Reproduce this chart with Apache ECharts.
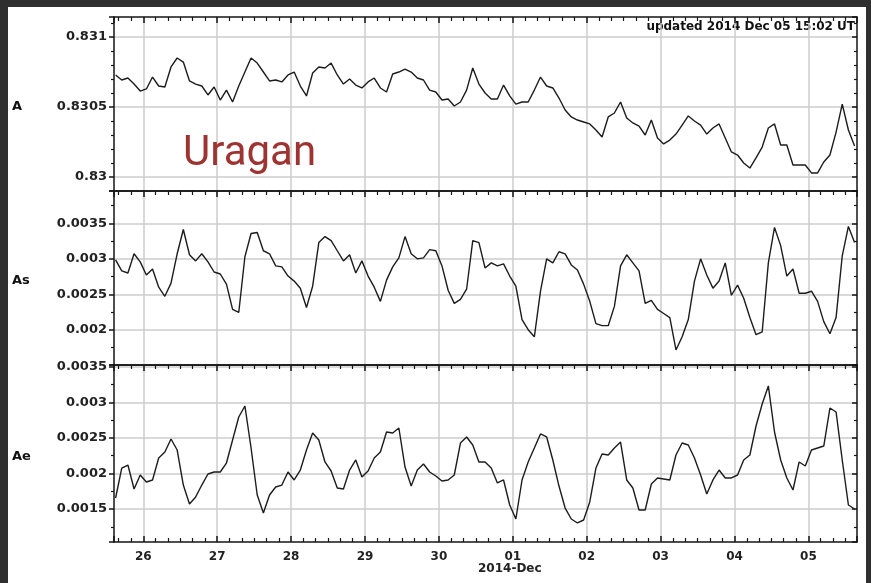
<!DOCTYPE html>
<html><head><meta charset="utf-8">
<script src="https://cdn.jsdelivr.net/npm/echarts@6/dist/echarts.min.js"></script>
<style>
html,body{margin:0;padding:0;background:#2f2f2f;overflow:hidden;}
#paper{position:absolute;left:8px;top:7px;width:858px;height:576px;background:#fff;}
#chart{position:absolute;left:0;top:0;width:871px;height:583px;}
</style></head><body>
<div id="paper"></div><div id="chart"></div>
<script>
// Hours relative to 2014-Nov-26 00:00 UT (2-hour samples)
const hours = [-9,-7,-5,-3,-1,1,3,5,7,9,11,13,15,17,19,21,23,25,27,29,31,33,35,37,39,41,43,45,47,49,51,53,55,57,59,61,63,65,67,69,71,73,75,77,79,81,83,85,87,89,91,93,95,97,99,101,103,105,107,109,111,113,115,117,119,121,123,125,127,129,131,133,135,137,139,141,143,145,147,149,151,153,155,157,159,161,163,165,167,169,171,173,175,177,179,181,183,185,187,189,191,193,195,197,199,201,203,205,207,209,211,213,215,217,219,221,223,225,227,229,231];

const seriesA = [0.830729,0.830693,0.830707,0.830664,0.830614,0.830629,0.830714,0.830650,0.830643,0.830786,
0.830850,0.830821,0.830686,0.830664,0.830650,0.830586,0.830643,0.830550,0.830621,0.830536,
0.830650,0.830750,0.830850,0.830814,0.830750,0.830686,0.830693,0.830679,0.830729,0.830750,
0.830650,0.830579,0.830743,0.830786,0.830779,0.830814,0.830729,0.830664,0.830700,0.830657,
0.830636,0.830679,0.830707,0.830636,0.830607,0.830736,0.830750,0.830771,0.830750,0.830707,
0.830693,0.830621,0.830607,0.830550,0.830557,0.830507,0.830536,0.830621,0.830779,0.830664,
0.830600,0.830557,0.830557,0.830657,0.830579,0.830521,0.830536,0.830536,0.830621,0.830714,
0.830650,0.830636,0.830564,0.830479,0.830429,0.830407,0.830393,0.830379,0.830336,0.830286,
0.830429,0.830457,0.830536,0.830421,0.830386,0.830364,0.830300,0.830407,0.830279,0.830236,
0.830264,0.830307,0.830371,0.830436,0.830400,0.830371,0.830307,0.830350,0.830379,0.830279,
0.830179,0.830157,0.830100,0.830064,0.830136,0.830214,0.830350,0.830379,0.830229,0.830229,
0.830086,0.830086,0.830086,0.830029,0.830029,0.830107,0.830157,0.830321,0.830521,0.830336,
0.830221];

const seriesAs = [0.002986,0.002829,0.0028,0.003071,0.002957,0.002771,0.002857,0.0026,0.002471,0.002657,
0.003071,0.003414,0.003057,0.002971,0.003071,0.002957,0.002814,0.002786,0.002643,0.002286,
0.002243,0.003029,0.003357,0.003371,0.003114,0.003071,0.0029,0.002886,0.002757,0.002686,
0.002586,0.002314,0.002614,0.003229,0.003314,0.003257,0.003114,0.002971,0.003057,0.0028,
0.002971,0.002757,0.0026,0.0024,0.0027,0.002886,0.003014,0.003314,0.003071,0.003,
0.003014,0.003129,0.003114,0.0029,0.002557,0.002371,0.002429,0.002571,0.003257,0.003229,
0.002871,0.002943,0.0029,0.002929,0.002757,0.002614,0.002143,0.002,0.0019,0.002543,
0.003,0.002943,0.0031,0.003071,0.002914,0.002843,0.002643,0.0024,0.002086,0.002057,
0.002057,0.002329,0.0029,0.003057,0.002943,0.002829,0.002371,0.002414,0.002286,0.002229,
0.002171,0.001714,0.0019,0.002143,0.002686,0.003,0.002771,0.002586,0.002686,0.002943,
0.002486,0.002629,0.002443,0.002171,0.001929,0.001971,0.002943,0.003443,0.003186,0.002757,
0.002857,0.002514,0.002514,0.002543,0.0024,0.002114,0.001943,0.002171,0.003043,0.003457,
0.003229];

const seriesAe = [0.001656,0.002077,0.002119,0.001782,0.001979,0.001881,0.001909,0.002218,0.002302,0.002485,
0.00233,0.001838,0.001572,0.00167,0.001838,0.001993,0.002021,0.002021,0.002147,0.00247,
0.002794,0.002948,0.002358,0.001698,0.001445,0.001698,0.00181,0.001838,0.002021,0.001909,
0.002049,0.00233,0.002569,0.00247,0.002162,0.002035,0.001796,0.001782,0.002049,0.00219,
0.001951,0.002035,0.002218,0.002302,0.002583,0.002569,0.002639,0.002091,0.001824,0.002049,
0.002133,0.002021,0.001965,0.001895,0.001909,0.001979,0.002428,0.002513,0.0024,0.002162,
0.002162,0.002077,0.001867,0.001909,0.001558,0.001361,0.001909,0.002162,0.002358,0.002555,
0.002513,0.00219,0.001824,0.001515,0.001361,0.001305,0.001347,0.0016,0.002077,0.002274,
0.00226,0.002358,0.002442,0.001909,0.001796,0.001487,0.001487,0.001853,0.001937,0.001923,
0.001909,0.00226,0.002428,0.0024,0.002218,0.001979,0.001712,0.001909,0.002049,0.001937,
0.001937,0.001979,0.00219,0.00226,0.002667,0.002976,0.00323,0.002583,0.00219,0.001937,
0.001768,0.002162,0.002105,0.00233,0.002358,0.002386,0.00292,0.002864,0.00219,0.001558,
0.001501];

const panelNames = ['A', 'As', 'Ae'];
const updatedText = 'updated 2014 Dec 05 15:02 UT';
const monthLabel = '2014-Dec';
const watermark = 'Uragan';

// ---- layout / style ----
const FONT = 'DejaVu Sans';
const INK = '#151515';
const GRIDC = '#cdcdcd';
const xRange = [25.6035, 35.658];   // day-of-month axis (Dec 1 = 31)
const yRanges = [
  {min: 0.8299,   max: 0.831143, split: 3, minor: 5},
  {min: 0.001502, max: 0.003957, split: 5, minor: 2},
  {min: 0.001038, max: 0.003524, split: 5, minor: 2}
];
const grids = [
  {left: 114, right: 14, top: 17,  height: 174},
  {left: 114, right: 14, top: 191, height: 174},
  {left: 114, right: 14, top: 365, height: 177}
];
const allSeries = [seriesA, seriesAs, seriesAe];
const labelY = [107, 281, 457];

function dayLabel(v) {
  const d = Math.round(v);
  return d > 30 ? String(d - 30).padStart(2, '0') : String(d);
}
const lineStyleAxis = {color: INK, width: 1.5};

const xAxis = [], yAxis = [], series = [], graphic = [];
for (let g = 0; g < 3; g++) {
  const last = g === 2;
  xAxis.push({
    type: 'value', gridIndex: g, position: 'bottom', min: xRange[0], max: xRange[1], splitNumber: 10,
    axisLine: {show: true, onZero: false, lineStyle: lineStyleAxis},
    axisTick: {show: last, inside: true, length: 6, lineStyle: {color: INK, width: 1.5}},
    minorTick: {show: last, splitNumber: 6, length: 4, lineStyle: {color: INK, width: 1.2}},
    axisLabel: {show: last, formatter: dayLabel, showMinLabel: false, showMaxLabel: false, margin: 9,
      fontFamily: FONT, fontWeight: 'bold', fontSize: 12, color: '#222'},
    splitLine: {show: true, showMinLine: false, showMaxLine: false, lineStyle: {color: GRIDC, width: 1.5}}
  });
  xAxis.push({
    type: 'value', gridIndex: g, position: 'top', min: xRange[0], max: xRange[1], splitNumber: 10,
    axisLine: {show: true, onZero: false, lineStyle: lineStyleAxis},
    axisTick: {show: true, inside: true, length: 6, lineStyle: {color: INK, width: 1.5}},
    minorTick: {show: true, splitNumber: 6, length: 4, lineStyle: {color: INK, width: 1.2}},
    axisLabel: {show: false}, splitLine: {show: false}
  });
  const r = yRanges[g];
  yAxis.push({
    type: 'value', gridIndex: g, position: 'left', min: r.min, max: r.max, splitNumber: r.split, scale: true,
    axisLine: {show: true, onZero: false, lineStyle: lineStyleAxis},
    axisTick: {show: true, inside: false, length: 5, lineStyle: {color: INK, width: 1.5}},
    minorTick: {show: true, splitNumber: r.minor, length: 3, lineStyle: {color: INK, width: 1.2}},
    axisLabel: {show: true, showMinLabel: false, showMaxLabel: false, margin: 7,
      formatter: v => String(+v.toFixed(6)),
      fontFamily: FONT, fontWeight: 'bold', fontSize: 13, color: '#222'},
    splitLine: {show: true, showMinLine: false, showMaxLine: false, lineStyle: {color: GRIDC, width: 1.5}}
  });
  yAxis.push({
    type: 'value', gridIndex: g, position: 'right', min: r.min, max: r.max, splitNumber: r.split, scale: true,
    axisLine: {show: true, onZero: false, lineStyle: lineStyleAxis},
    axisTick: {show: true, inside: true, length: 5, lineStyle: {color: INK, width: 1.5}},
    minorTick: {show: true, splitNumber: r.minor, length: 3, lineStyle: {color: INK, width: 1.2}},
    axisLabel: {show: false}, splitLine: {show: false}
  });
  series.push({
    type: 'line', xAxisIndex: 2 * g, yAxisIndex: 2 * g, showSymbol: false, symbol: 'none',
    lineStyle: {color: '#1c1c1c', width: 1.4}, animation: false,
    data: hours.map((h, i) => [26 + h / 24, allSeries[g][i]])
  });
  graphic.push({type: 'text', left: 12, top: labelY[g] - 7,
    style: {text: panelNames[g], font: 'bold 13px "DejaVu Sans"', fill: '#111'}});
}
graphic.push({type: 'text', right: 16, top: 21,
  style: {text: updatedText, font: 'bold 12px "DejaVu Sans"', fill: '#111'}});
graphic.push({type: 'text', left: 478, top: 563,
  style: {text: monthLabel, font: 'bold 12px "DejaVu Sans"', fill: '#222'}});
graphic.push({type: 'text', left: 183, top: 133, z: 10,
  style: {text: watermark, font: '42px Roboto', fill: '#9e3431'}});

const chart = echarts.init(document.getElementById('chart'), null, {renderer: 'canvas'});
chart.setOption({
  backgroundColor: 'transparent',
  animation: false,
  grid: grids,
  xAxis: xAxis,
  yAxis: yAxis,
  series: series,
  graphic: graphic
});
</script>
</body></html>
